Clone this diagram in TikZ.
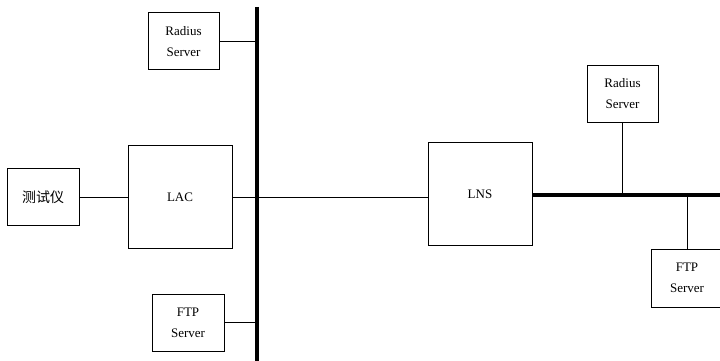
\documentclass[tikz,border=0pt]{standalone}
\usepackage{fontspec}
\setmainfont{Liberation Serif}
\newfontfamily\cjk{Noto Sans CJK SC}
\begin{document}
\begin{tikzpicture}[x=1pt,y=-1pt,
  box/.style={draw,line width=1pt,inner sep=0pt,align=center,
    font=\fontsize{13}{21}\selectfont},
  smallbox/.style={box,minimum width=71pt,minimum height=57pt},
  bigbox/.style={box,minimum width=104pt,minimum height=103pt},
  wire/.style={line width=0.9pt},
  bus/.style={line width=3.6pt}]
\useasboundingbox (0,0) rectangle (720,361);
\clip (0,0) rectangle (720,361);
\node[smallbox] (radiusL) at (183.5,41.5) {Radius\\Server};
\node[smallbox,minimum width=72pt,font=\cjk\fontsize{14}{16}\selectfont] (tester) at (43,197) {测试仪};
\node[bigbox] (lac) at (180,197) {LAC};
\node[smallbox,minimum width=72pt] (ftpL) at (188,322.5) {FTP\\Server};
\node[bigbox] (lns) at (480,194) {LNS};
\node[smallbox,minimum height=56pt] (radiusR) at (622.5,94) {Radius\\Server};
\node[smallbox,minimum width=72pt,minimum height=58pt] (ftpR) at (687,278) {FTP\\Server};
\coordinate (busTop) at (257,7);
\coordinate (busBot) at (257,362);
\coordinate (busR) at (722,195);
\draw[bus] (busTop) -- (busBot);
\draw[bus] (lns.east |- busR) -- (busR);
\draw[wire] (radiusL.east) -- (radiusL.east -| busTop);
\draw[wire] (ftpL.east) -- (ftpL.east -| busTop);
\draw[wire] (tester.east) -- (lac.west);
\draw[wire] (lac.east) -- (lac.east -| lns.west);
\draw[wire] (radiusR.south) -- (radiusR.south |- busR);
\draw[wire] (ftpR.north) -- (ftpR.north |- busR);
\end{tikzpicture}
\end{document}
